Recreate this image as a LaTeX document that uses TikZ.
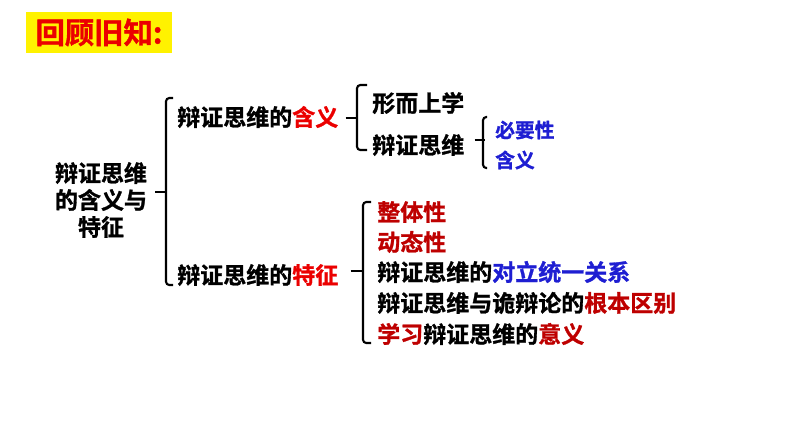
\documentclass[tikz,border=0pt]{standalone}
\usepackage{fontspec}
\setmainfont{Noto Sans CJK SC}[BoldFont={Noto Sans CJK SC Bold},
  BoldFeatures={FakeBold=1.2}]
\usetikzlibrary{calc}
\definecolor{rvred}{RGB}{235,0,0}
\definecolor{rvdark}{RGB}{190,0,0}
\definecolor{rvblue}{RGB}{30,30,210}
\begin{document}
\begin{tikzpicture}[x=0.75pt, y=-0.75pt,
  rvtitle/.style = {fill=yellow, text=rvred, inner sep=0pt,
    minimum width=109.5pt, minimum height=30.75pt,
    font=\fontsize{22}{22}\selectfont\bfseries},
  rvitem/.style = {anchor=west, inner sep=0pt,
    font=\fontsize{17.25}{20.25}\selectfont\bfseries},
  rvsub/.style = {anchor=west, inner sep=0pt, text=rvblue,
    font=\fontsize{14.8}{17}\selectfont\bfseries},
  rvbrk/.style = {line width=1.6pt, rounded corners=2.5pt}
]
  \useasboundingbox (0,0) rectangle (794,447);
  % 标题
  \node[rvtitle] (title) at (99,32.5) {回顾旧知:};
  % 总
  \node[rvitem, anchor=center, align=center] (root) at (101,200)
    {辩证思维\\的含义与\\特征};
  % 第一层
  \node[rvitem] (hanyi) at (177,117) {辩证思维的\textcolor{rvred}{含义}};
  \node[rvitem] (tezheng) at (177,275) {辩证思维的\textcolor{rvred}{特征}};
  % 含义
  \node[rvitem] (xing) at (372,103) {形而上学};
  \node[rvitem] (bzsw) at (372,145) {辩证思维};
  \node[rvsub] (biyao) at (495,130) {必要性};
  \node[rvsub] (hy) at (495,160) {含义};
  % 特征
  \node[rvitem, text=rvdark] (zt) at (377,212) {整体性};
  \node[rvitem, text=rvdark] (dt) at (377,242) {动态性};
  \node[rvitem] (dl) at (377,272) {辩证思维的\textcolor{rvblue}{对立统一关系}};
  \node[rvitem] (gb) at (377,303) {辩证思维与诡辩论的\textcolor{rvdark}{根本区别}};
  \node[rvitem] (yy) at (377,334)
    {\textcolor{rvdark}{学习}辩证思维的\textcolor{rvdark}{意义}};
  % 括号
  \draw[rvbrk] ($(root.east)+(8,-8)$) -- ++(11,0);
  \draw[rvbrk] ($(hanyi.west)+(-4,-19)$) -- ++(-7,0)
    |- ($(tezheng.west)+(-4,10)$);
  \draw[rvbrk] ($(hanyi.east)+(7,1)$) -- ++(12,0);
  \draw[rvbrk] ($(xing.west)+(-5,-18)$) -- ++(-10,0)
    |- ($(bzsw.west)+(-5,5)$);
  \draw[rvbrk] ($(bzsw.east)+(10,-5)$) -- ++(10,0);
  \draw[rvbrk] ($(biyao.west)+(-8,-13)$) -- ++(-4,0)
    |- ($(hy.west)+(-8,8)$);
  \draw[rvbrk] ($(tezheng.east)+(12,-4)$) -- ++(13,0);
  \draw[rvbrk] ($(zt.west)+(-6,-10)$) -- ++(-8,0)
    |- ($(yy.west)+(-6,9)$);
\end{tikzpicture}
\end{document}
